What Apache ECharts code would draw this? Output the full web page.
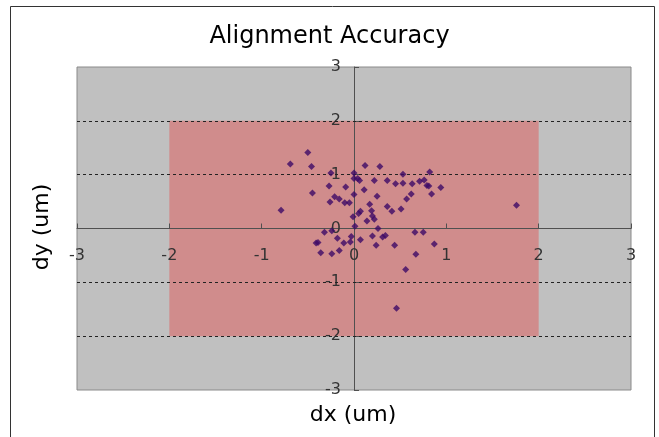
<!DOCTYPE html>
<html>
<head>
<meta charset="utf-8">
<script src="https://cdn.jsdelivr.net/npm/echarts@6/dist/echarts.min.js"></script>
<style>
  html, body { margin: 0; padding: 0; background: #fff; }
  #chart { width: 659px; height: 437px; }
</style>
</head>
<body>
<div id="chart"></div>
<script>
// measured offsets (um)
const dx = [-0.50, -0.69, -0.46, 0.12, 0.28, -0.25, 0.00, 0.53, 0.82, 0.00,
  0.04, 0.06, 0.22, 0.36, 0.45, 0.53, 0.63, 0.71, 0.76, 0.79,
  0.81, 0.94, -0.27, -0.09, 0.11, -0.45, 0.00, 0.84, 0.62, 0.25,
  -0.21, -0.16, 0.57, -0.26, -0.10, -0.05, 0.17, 0.36, -0.79, 0.51,
  0.41, 0.19, 0.07, 0.05, 0.20, -0.01, 0.22, 0.14, 0.01, 0.26,
  -0.32, -0.24, 0.66, 0.75, -0.18, -0.03, 0.07, 0.20, 0.31, 0.34,
  -0.41, -0.39, -0.11, -0.04, 0.24, 0.44, 0.87, -0.36, -0.24, -0.16,
  0.67, 0.56, 1.76, 0.46];
const dy = [1.41, 1.20, 1.15, 1.17, 1.15, 1.03, 1.03, 1.01, 1.05, 0.93,
  0.93, 0.89, 0.89, 0.89, 0.83, 0.84, 0.83, 0.88, 0.90, 0.80,
  0.79, 0.76, 0.79, 0.77, 0.72, 0.66, 0.63, 0.64, 0.64, 0.60,
  0.59, 0.55, 0.55, 0.49, 0.48, 0.48, 0.45, 0.41, 0.34, 0.36,
  0.32, 0.33, 0.32, 0.28, 0.23, 0.22, 0.17, 0.14, 0.04, 0.00,
  -0.07, -0.04, -0.07, -0.07, -0.18, -0.15, -0.21, -0.14, -0.16, -0.13,
  -0.27, -0.26, -0.27, -0.25, -0.31, -0.31, -0.29, -0.45, -0.47, -0.41,
  -0.48, -0.76, 0.43, -1.48];
const gridLines = [-2, -1, 1, 2];
const specBox = [-2, 2];

const chart = echarts.init(document.getElementById('chart'));

// plot box: 77..631 x 67..390, axes cross in the middle
const axisCommon = {
  type: 'value',
  min: -3,
  max: 3,
  interval: 1,
  z: 3,
  axisLine: { onZero: false, lineStyle: { color: '#505050', width: 1 } },
  axisTick: { show: true, inside: true, length: 5, lineStyle: { color: '#505050' } },
  axisLabel: { color: '#333', fontSize: 16, fontFamily: 'DejaVu Sans' },
  splitLine: { show: false }
};

chart.setOption({
  animation: false,
  backgroundColor: '#fff',
  title: {
    text: 'Alignment Accuracy',
    left: 'center',
    top: 20,
    textStyle: { fontSize: 24, fontWeight: 'normal', color: '#000', fontFamily: 'DejaVu Sans' }
  },
  grid: {
    left: 77, right: 28, top: 67, bottom: 47,
    show: true,
    backgroundColor: '#c0c0c0',
    borderColor: '#8a8a8a',
    borderWidth: 1
  },
  xAxis: Object.assign({}, axisCommon, {
    position: 'bottom',
    offset: -161.5,
    axisLabel: Object.assign({}, axisCommon.axisLabel, { margin: 19 })
  }),
  yAxis: Object.assign({}, axisCommon, {
    position: 'left',
    offset: -277,
    axisLabel: Object.assign({}, axisCommon.axisLabel, { margin: 13 })
  }),
  graphic: [
    {
      type: 'rect', z: 100, silent: true,
      shape: { x: 10.5, y: 6.5, width: 644, height: 440 },
      style: { fill: 'none', stroke: '#333', lineWidth: 1 }
    },
    {
      type: 'text', x: 353, y: 415,
      style: { text: 'dx (um)', fontSize: 22, fill: '#000', fontFamily: 'DejaVu Sans', align: 'center', verticalAlign: 'middle' }
    },
    {
      type: 'text', x: 42, y: 227, rotation: Math.PI / 2,
      style: { text: 'dy (um)', fontSize: 22, fill: '#000', fontFamily: 'DejaVu Sans', align: 'center', verticalAlign: 'middle' }
    }
  ],
  series: [
    {
      type: 'scatter',
      z: 1,
      data: [],
      silent: true,
      markArea: {
        silent: true,
        itemStyle: { color: '#d08c8c', opacity: 1 },
        data: [[{ xAxis: specBox[0], yAxis: specBox[0] }, { xAxis: specBox[1], yAxis: specBox[1] }]]
      },
      markLine: {
        silent: true,
        symbol: 'none',
        label: { show: false },
        lineStyle: { color: '#222', type: [3, 3], width: 1 },
        data: gridLines.map(v => ({ yAxis: v }))
      }
    },
    {
      type: 'scatter',
      z: 5,
      symbol: 'diamond',
      symbolSize: 7,
      itemStyle: { color: '#3d0a66' },
      data: dx.map((x, i) => [x, dy[i]])
    }
  ]
});
</script>
</body>
</html>
